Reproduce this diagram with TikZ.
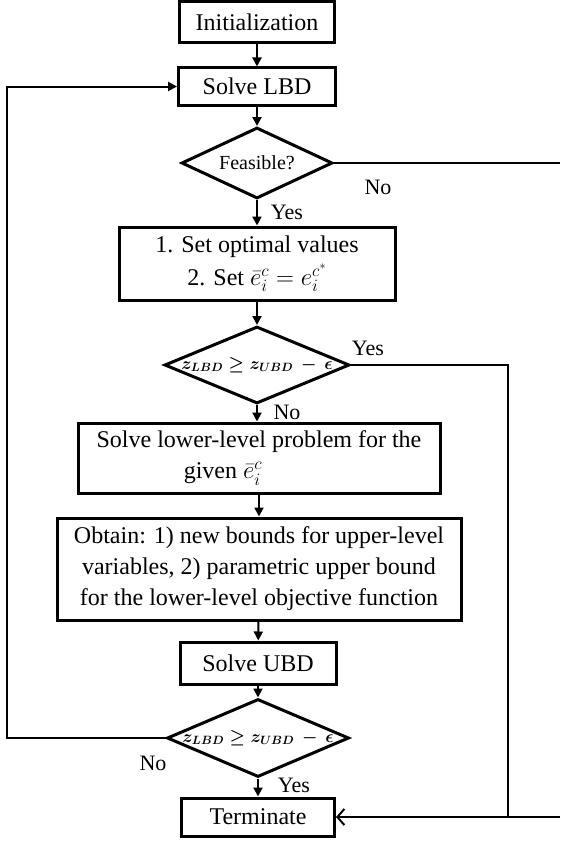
\documentclass[tikz,border=0pt]{standalone}
\usepackage{amsmath}
\usepackage{fontspec}
\setmainfont{Liberation Serif}
\usetikzlibrary{shapes.geometric,arrows.meta}
\begin{document}
\begin{tikzpicture}[x=1pt,y=-1pt,
 box/.style={draw,line width=3pt,inner sep=0pt,align=center,font=\fontsize{24}{31}\selectfont},
 dia/.style={draw,diamond,line width=3pt,inner sep=0pt},
 conn/.style={line width=2pt},
 arr/.style={conn,-{Triangle[length=9pt,width=9pt]}},
 lab/.style={font=\fontsize{22}{26}\selectfont,inner sep=0pt}
]
\useasboundingbox (0,0) rectangle (560,843);
\node[box,minimum width=155pt,minimum height=41pt] (init) at (257,22) {Initialization};
\node[box,minimum width=157pt,minimum height=37pt] (lbd) at (257,86.5) {Solve LBD};
\node[dia,minimum width=151pt,minimum height=71pt] (feas) at (257,163)
  {\makebox[0pt]{\fontsize{20}{24}\selectfont Feasible?}};
\node[box,minimum width=276pt,minimum height=73pt,font=\fontsize{24}{33}\selectfont] (setv) at (257,263.5)
  {1. Set optimal values\\2. Set $\bar{e}_i^c = e_i^{c^*}$};
\node[dia,minimum width=185pt,minimum height=77pt] (d2) at (257,365)
  {\makebox[0pt]{\fontsize{17}{20}\selectfont\boldmath$z_{LBD}\geq z_{UBD}\,-\,\epsilon$}};
\node[box,minimum width=362pt,minimum height=70pt] (low) at (259,458)
  {Solve lower-level problem for the\\given $\bar{e}_i^c$\rule{72pt}{0pt}};
\node[box,minimum width=404pt,minimum height=102pt] (obt) at (259,569)
  {Obtain: 1) new bounds for upper-level\\variables, 2) parametric upper bound\\for the lower-level objective function};
\node[box,minimum width=156pt,minimum height=42pt] (ubd) at (258,663) {Solve UBD};
\node[dia,minimum width=182pt,minimum height=78pt] (d3) at (258,738)
  {\makebox[0pt]{\fontsize{17}{20}\selectfont\boldmath$z_{LBD}\geq z_{UBD}\,-\,\epsilon$}};
\node[box,minimum width=153pt,minimum height=38pt] (term) at (258,817) {Terminate};

\coordinate (loopx) at (7,0);
\coordinate (rx) at (508,0);
\coordinate (fedge) at (560,163);
\coordinate (tedge) at (560,817);

\draw[arr] (init) -- (lbd);
\draw[arr] (lbd) -- (feas);
\draw[arr] (feas) -- (setv);
\draw[arr] (setv) -- (d2);
\draw[arr] (d2) -- (d2.south |- low.north);
\draw[arr] (low.south -| obt.north) -- (obt);
\draw[arr] (obt) -- (ubd);
\draw[arr] (ubd) -- (d3);
\draw[arr] (d3) -- (term);
\draw[conn] (feas.east) -- (fedge);
\draw[conn] (d2.east) -- (d2.east -| rx) -- (term.east -| rx);
\draw[conn,-{Straight Barb[length=7pt,width=16pt]}] (tedge) -- (term.east);
\draw[arr] (d3.west) -- (d3.west -| loopx) -- (lbd.west -| loopx) -- (lbd.west);

\node[lab] (no1) at (378,187) {No};
\node[lab] (yes1) at (287,212) {Yes};
\node[lab] (yes2) at (368,348) {Yes};
\node[lab] (no2) at (287,412) {No};
\node[lab] (no3) at (153,763) {No};
\node[lab] (yes3) at (294,785) {Yes};
\end{tikzpicture}
\end{document}
